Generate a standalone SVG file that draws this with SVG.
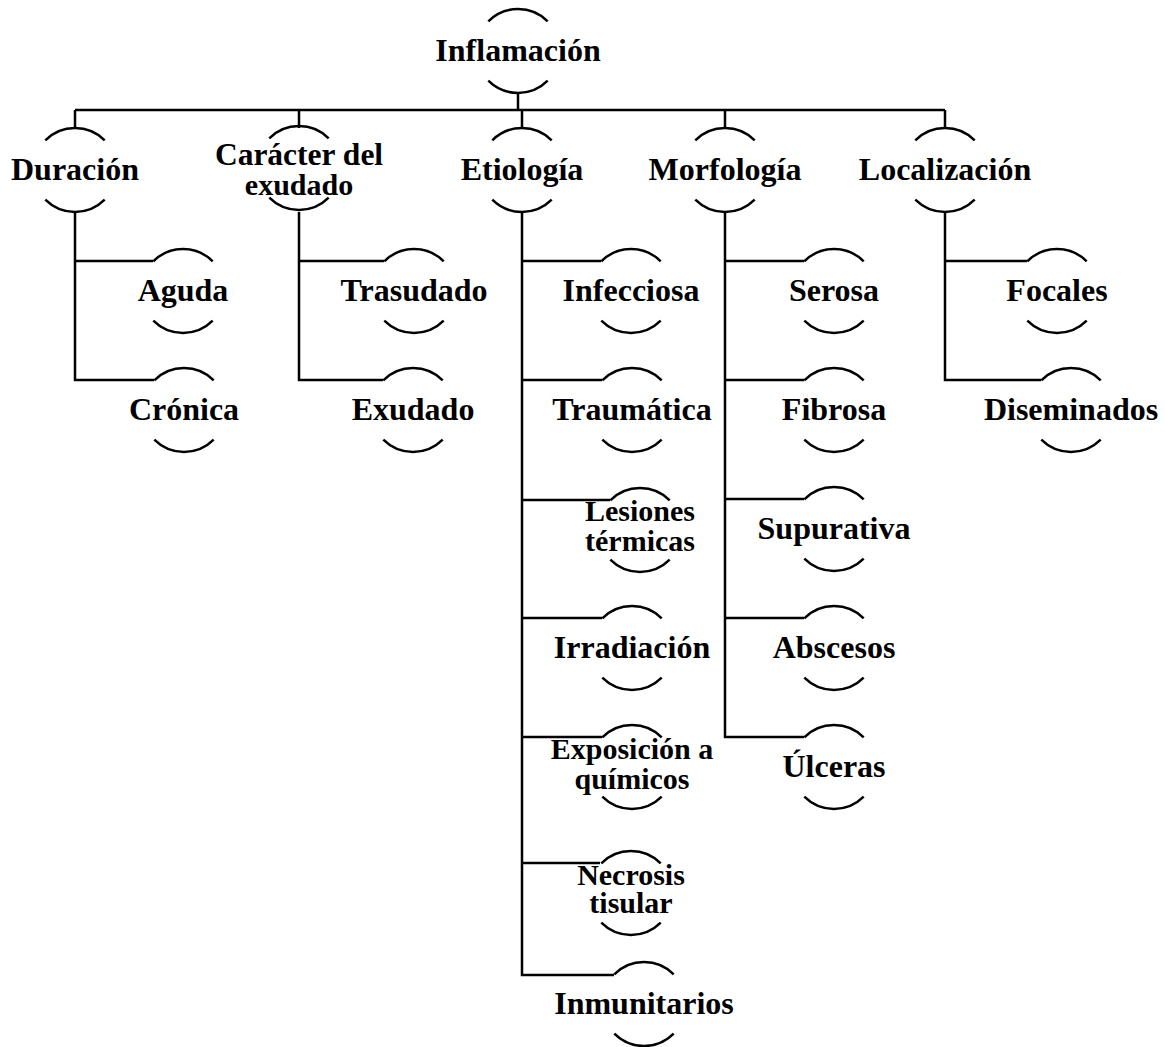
<svg xmlns="http://www.w3.org/2000/svg" xmlns:xlink="http://www.w3.org/1999/xlink" width="1165" height="1047" viewBox="0 0 1165 1047">
<style>
.arc{fill:none;stroke:#000;stroke-width:2.5}
.conn path{fill:none;stroke:#000;stroke-width:2.5}
text{font-family:"Liberation Serif","Times New Roman",serif;font-weight:bold;font-size:32px;fill:#000;text-anchor:middle}
text.two{font-size:30px}
</style>
<defs>
<g id="arcs">
<path class="arc" d="M-29.7,-29.7 A42,42 0 0 1 29.7,-29.7"/>
<path class="arc" d="M-29.7,29.7 A42,42 0 0 0 29.7,29.7"/>
</g>
</defs>
<rect width="1165" height="1047" fill="#fff"/>
<g class="conn" id="connectors">
<path d="M518,93 V110"/>
<path d="M75,110 H945"/>
<path d="M75,110 V128 M299,110 V128 M522,110 V128 M725,110 V128 M945,110 V128"/>
<path d="M75,212 V380 H154 M75,261 H153"/>
<path d="M299,212 V380 H383 M299,261 H384"/>
<path d="M522,212 V975 H614 M522,261 H601 M522,380 H602 M522,500 H610 M522,618 H602 M522,737 H602 M522,863 H600"/>
<path d="M725,212 V737 H804 M725,261 H804 M725,380 H804 M725,499 H804 M725,618 H804"/>
<path d="M945,212 V380 H1041 M945,261 H1027"/>
</g>
<g id="n-inflamacion" transform="translate(518,51)"><use xlink:href="#arcs"/><text y="10">Inflamación</text></g>
<g id="n-duracion" transform="translate(75,170)"><use xlink:href="#arcs"/><text y="10">Duración</text></g>
<g id="n-caracter" transform="translate(299,168)"><use xlink:href="#arcs"/><text y="-3" style="font-size:31.5px">Carácter del</text><text class="two" y="27">exudado</text></g>
<g id="n-etiologia" transform="translate(522,170)"><use xlink:href="#arcs"/><text y="10">Etiología</text></g>
<g id="n-morfologia" transform="translate(725,170)"><use xlink:href="#arcs"/><text y="10">Morfología</text></g>
<g id="n-localizacion" transform="translate(945,170)"><use xlink:href="#arcs"/><text y="10">Localización</text></g>
<g id="n-aguda" transform="translate(183,291)"><use xlink:href="#arcs"/><text y="10">Aguda</text></g>
<g id="n-cronica" transform="translate(184,410)"><use xlink:href="#arcs"/><text y="10">Crónica</text></g>
<g id="n-trasudado" transform="translate(414,291)"><use xlink:href="#arcs"/><text y="10">Trasudado</text></g>
<g id="n-exudado" transform="translate(413,410)"><use xlink:href="#arcs"/><text y="10">Exudado</text></g>
<g id="n-infecciosa" transform="translate(631,291)"><use xlink:href="#arcs"/><text y="10">Infecciosa</text></g>
<g id="n-traumatica" transform="translate(632,410)"><use xlink:href="#arcs"/><text y="10">Traumática</text></g>
<g id="n-lesiones" transform="translate(640,530)"><use xlink:href="#arcs"/><text class="two" y="-9">Lesiones</text><text class="two" y="21">térmicas</text></g>
<g id="n-irradiacion" transform="translate(632,648)"><use xlink:href="#arcs"/><text y="10">Irradiación</text></g>
<g id="n-exposicion" transform="translate(632,767)"><use xlink:href="#arcs"/><text class="two" y="-8">Exposición a</text><text class="two" y="22">químicos</text></g>
<g id="n-necrosis" transform="translate(631,893)"><use xlink:href="#arcs"/><text class="two" y="-8">Necrosis</text><text class="two" y="20">tisular</text></g>
<g id="n-inmunitarios" transform="translate(644,1004)"><use xlink:href="#arcs"/><text y="10">Inmunitarios</text></g>
<g id="n-serosa" transform="translate(834,291)"><use xlink:href="#arcs"/><text y="10">Serosa</text></g>
<g id="n-fibrosa" transform="translate(834,410)"><use xlink:href="#arcs"/><text y="10">Fibrosa</text></g>
<g id="n-supurativa" transform="translate(834,529)"><use xlink:href="#arcs"/><text y="10">Supurativa</text></g>
<g id="n-abscesos" transform="translate(834,648)"><use xlink:href="#arcs"/><text y="10">Abscesos</text></g>
<g id="n-ulceras" transform="translate(834,767)"><use xlink:href="#arcs"/><text y="10">Úlceras</text></g>
<g id="n-focales" transform="translate(1057,291)"><use xlink:href="#arcs"/><text y="10">Focales</text></g>
<g id="n-diseminados" transform="translate(1071,410)"><use xlink:href="#arcs"/><text y="10">Diseminados</text></g>
</svg>
